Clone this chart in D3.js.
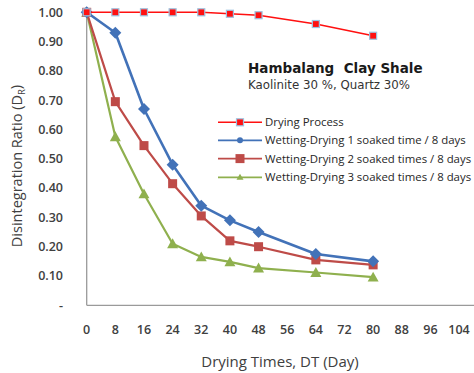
<!DOCTYPE html>
<html>
<head>
<meta charset="utf-8">
<script src="https://cdn.jsdelivr.net/npm/d3@7"></script>
<style>
  body { margin: 0; background: #fff; }
  svg { display: block; font-family: "Open Sans", "Noto Sans", sans-serif; }
</style>
</head>
<body>
<svg id="chart" width="474" height="373"></svg>
<script>
// Drying time (days) at each measurement
const days = [0, 8, 16, 24, 32, 40, 48, 64, 80];

// Disintegration ratio for each treatment
const dryingProcess = [1.00, 1.00, 1.00, 1.00, 1.00, 0.995, 0.99, 0.96, 0.92];
const wetDry1 = [1.00, 0.93, 0.67, 0.48, 0.34, 0.29, 0.25, 0.175, 0.15];
const wetDry2 = [1.00, 0.695, 0.545, 0.415, 0.305, 0.22, 0.20, 0.155, 0.138];
const wetDry3 = [1.00, 0.575, 0.38, 0.21, 0.165, 0.148, 0.127, 0.112, 0.096];

const seriesNames = [
  "Drying Process",
  "Wetting-Drying 1 soaked time / 8 days",
  "Wetting-Drying 2 soaked times / 8 days",
  "Wetting-Drying 3 soaked times / 8 days"
];

// Axis ticks
const xTicks = [0, 8, 16, 24, 32, 40, 48, 56, 64, 72, 80, 88, 96, 104];
const yTicks = [0, 0.1, 0.2, 0.3, 0.4, 0.5, 0.6, 0.7, 0.8, 0.9, 1.0];

const series = [
  { name: seriesNames[0], values: dryingProcess, color: "#FF1010", width: 1.6, marker: "smallSquare" },
  { name: seriesNames[1], values: wetDry1, color: "#4272B8", width: 2.6, marker: "diamond" },
  { name: seriesNames[2], values: wetDry2, color: "#BE4B48", width: 2.2, marker: "square" },
  { name: seriesNames[3], values: wetDry3, color: "#8FB04E", width: 2.2, marker: "triangle" }
];

const svg = d3.select("#chart");
const x = d3.scaleLinear().domain([0, 112]).range([86.7, 487.7]);
const y = d3.scaleLinear().domain([0, 1]).range([305.3, 12.3]);

// Axes lines
svg.append("line")
  .attr("x1", x(0)).attr("x2", 474)
  .attr("y1", y(0)).attr("y2", y(0))
  .attr("stroke", "#9a9a9a").attr("stroke-width", 1.3);
svg.append("line")
  .attr("x1", x(0)).attr("x2", x(0))
  .attr("y1", y(0)).attr("y2", 8)
  .attr("stroke", "#9a9a9a").attr("stroke-width", 1.3);

// Y tick labels
svg.append("g").selectAll("text").data(yTicks).join("text")
  .attr("x", 63).attr("y", d => y(d)).attr("dy", "0.35em")
  .attr("text-anchor", "end")
  .attr("font-size", 12.5).attr("font-weight", 600).attr("fill", "#404040")
  .text(d => d === 0 ? "-" : d3.format(".2f")(d));

// X tick labels
svg.append("g").selectAll("text").data(xTicks).join("text")
  .attr("x", d => x(d)).attr("y", 330).attr("dy", "0.35em")
  .attr("text-anchor", "middle")
  .attr("font-size", 12.5).attr("font-weight", 600).attr("fill", "#404040")
  .text(d => d);

// Axis titles
svg.append("text")
  .attr("x", 280).attr("y", 362).attr("dy", "0.35em")
  .attr("text-anchor", "middle").attr("font-size", 15).attr("fill", "#404040")
  .text("Drying Times, DT (Day)");

const yTitle = svg.append("text")
  .attr("transform", "translate(17,166) rotate(-90)")
  .attr("dy", "0.35em")
  .attr("text-anchor", "middle").attr("font-size", 14.5).attr("fill", "#404040");
yTitle.append("tspan").text("Disintegration Ratio (D");
yTitle.append("tspan").attr("font-size", 9.5).attr("dy", "0.3em").text("R");
yTitle.append("tspan").attr("dy", "-0.3em").text(")");

// Marker drawing
function drawMarker(g, type, color, cx, cy) {
  if (type === "smallSquare") {
    g.append("rect").attr("x", cx - 3.5).attr("y", cy - 3.5).attr("width", 7).attr("height", 7)
      .attr("fill", color).attr("stroke", "#9cc3e0").attr("stroke-width", 1.2);
  } else if (type === "diamond") {
    const s = 6;
    g.append("path").attr("d", `M${cx},${cy - s}L${cx + s},${cy}L${cx},${cy + s}L${cx - s},${cy}Z`)
      .attr("fill", color);
  } else if (type === "square") {
    g.append("rect").attr("x", cx - 4.5).attr("y", cy - 4.5).attr("width", 9).attr("height", 9)
      .attr("fill", color);
  } else if (type === "triangle") {
    const s = 5.5;
    g.append("path").attr("d", `M${cx},${cy - s}L${cx + s},${cy + s * 0.8}L${cx - s},${cy + s * 0.8}Z`)
      .attr("fill", color);
  }
}

const line = d3.line().x((d, i) => x(days[i])).y(d => y(d));

// Draw series from back to front
[3, 2, 1, 0].forEach(k => {
  const s = series[k];
  const g = svg.append("g");
  g.append("path").datum(s.values)
    .attr("d", line).attr("fill", "none")
    .attr("stroke", s.color).attr("stroke-width", s.width)
    .attr("stroke-linejoin", "round");
  s.values.forEach((v, i) => drawMarker(g, s.marker, s.color, x(days[i]), y(v)));
});

// Title block
svg.append("text")
  .attr("x", 248).attr("y", 73)
  .attr("font-family", "'DejaVu Sans', sans-serif")
  .attr("font-size", 13.5).attr("font-weight", 700).attr("fill", "#1a1a1a")
  .attr("xml:space", "preserve")
  .text("Hambalang  Clay Shale");
svg.append("text")
  .attr("x", 248).attr("y", 89)
  .attr("font-family", "'DejaVu Sans', sans-serif")
  .attr("font-size", 11.8).attr("fill", "#333")
  .text("Kaolinite 30 %, Quartz 30%");

// Legend
const legendY = [122.3, 140.3, 158.6, 177.3];
series.forEach((s, i) => {
  const g = svg.append("g");
  g.append("line")
    .attr("x1", 218).attr("x2", 262)
    .attr("y1", legendY[i]).attr("y2", legendY[i])
    .attr("stroke", s.color).attr("stroke-width", s.marker === "smallSquare" ? 1.6 : 1.8);
  if (s.marker === "diamond") {
    g.append("circle").attr("cx", 240).attr("cy", legendY[i]).attr("r", 3).attr("fill", s.color);
  } else if (s.marker === "triangle") {
    const cx = 240, cy = legendY[i];
    g.append("path").attr("d", `M${cx},${cy - 3.5}L${cx + 3.5},${cy + 2.5}L${cx - 3.5},${cy + 2.5}Z`).attr("fill", s.color);
  } else {
    drawMarker(g, s.marker, s.color, 240, legendY[i]);
  }
  g.append("text")
    .attr("x", 265).attr("y", legendY[i]).attr("dy", "0.35em")
    .attr("font-size", 11.4).attr("fill", "#262626")
    .text(s.name);
});
</script>
</body>
</html>
